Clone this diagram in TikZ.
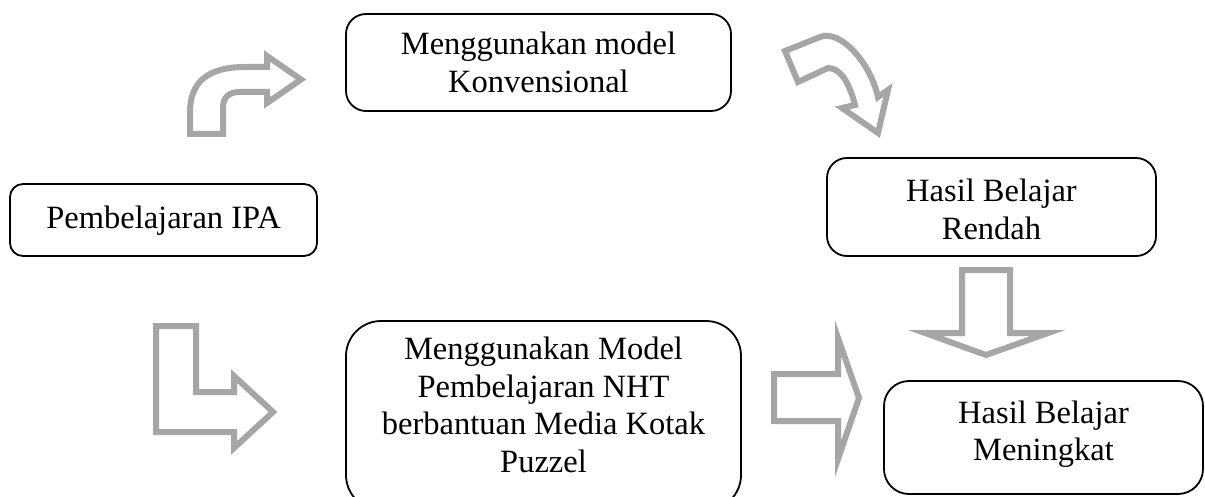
\documentclass[tikz,border=0pt]{standalone}
\usepackage{fontspec}
\setmainfont{Liberation Serif}
\definecolor{arrowgray}{HTML}{A6A6A6}
\begin{document}
\begin{tikzpicture}[x=1pt,y=-1pt,
  box/.style={draw=black, line width=1.8pt, fill=white, inner sep=0pt},
  txt/.style={align=center, inner sep=0pt, font=\fontsize{32.5}{37.5}\selectfont},
  blockarrow/.style={draw=arrowgray, line width=6pt, fill=white, line join=miter, miter limit=10}]
\useasboundingbox (0,0) rectangle (1205,497);
\clip (0,0) rectangle (1205,497);
% boxes
\node[box, rounded corners=13pt, minimum width=307pt, minimum height=72pt] (b1) at (163.5,220) {};
\node[txt] (t1) at (163.5,220.5) {Pembelajaran IPA};
\node[box, rounded corners=20pt, minimum width=385pt, minimum height=97pt] (b2) at (538.5,62.5) {};
\node[txt] (t2) at (538.5,62.5) {Menggunakan model\\Konvensional};
\node[box, rounded corners=20pt, minimum width=329pt, minimum height=98pt] (b3) at (991.5,207) {};
\node[txt] (t3) at (991.5,209.5) {Hasil Belajar\\Rendah};
\node[box, rounded corners=35pt, minimum width=395pt, minimum height=189pt] (b4) at (543.5,415.5) {};
\node[txt] (t4) at (543.5,405) {Menggunakan Model\\Pembelajaran NHT\\berbantuan Media Kotak\\Puzzel};
\node[box, rounded corners=25pt, minimum width=319pt, minimum height=113pt] (b5) at (1043.5,437.5) {};
\node[txt] (t5) at (1043.5,434) {Hasil Belajar\\Meningkat};
% block arrows
% curved up-right arrow (top left)
\draw[blockarrow] (190,134) -- (190,112) .. controls (190,82) and (208,67) .. (245,67) -- (267,67) -- (267,56) -- (301,79.5) -- (267,103) -- (267,92) -- (240,92) .. controls (229,92) and (223,97) .. (223,108) -- (223,134) -- cycle;
% curved down-right arrow (top right)
\draw[blockarrow] (785,51) -- (820,37) .. controls (840,29) and (870,62) .. (878,97) -- (888,90) -- (878,133) -- (842,108) -- (855,105) .. controls (850,86) and (842,68) .. (828,68) -- (798,82) -- cycle;
% L-shaped arrow (bottom left)
\draw[blockarrow] (156,326) -- (196,326) -- (196,392) -- (234,392) -- (234,376) -- (273,412) -- (234,448) -- (234,432) -- (156,432) -- cycle;
% right arrow (bottom middle)
\draw[blockarrow] (774,374) -- (838,374) -- (838,338) -- (859,398) -- (838,459) -- (838,421) -- (774,421) -- cycle;
% down arrow (right)
\draw[blockarrow] (962,270) -- (1010,270) -- (1010,333) -- (1048,333) -- (986,355) -- (925,333) -- (962,333) -- cycle;
\end{tikzpicture}
\end{document}
